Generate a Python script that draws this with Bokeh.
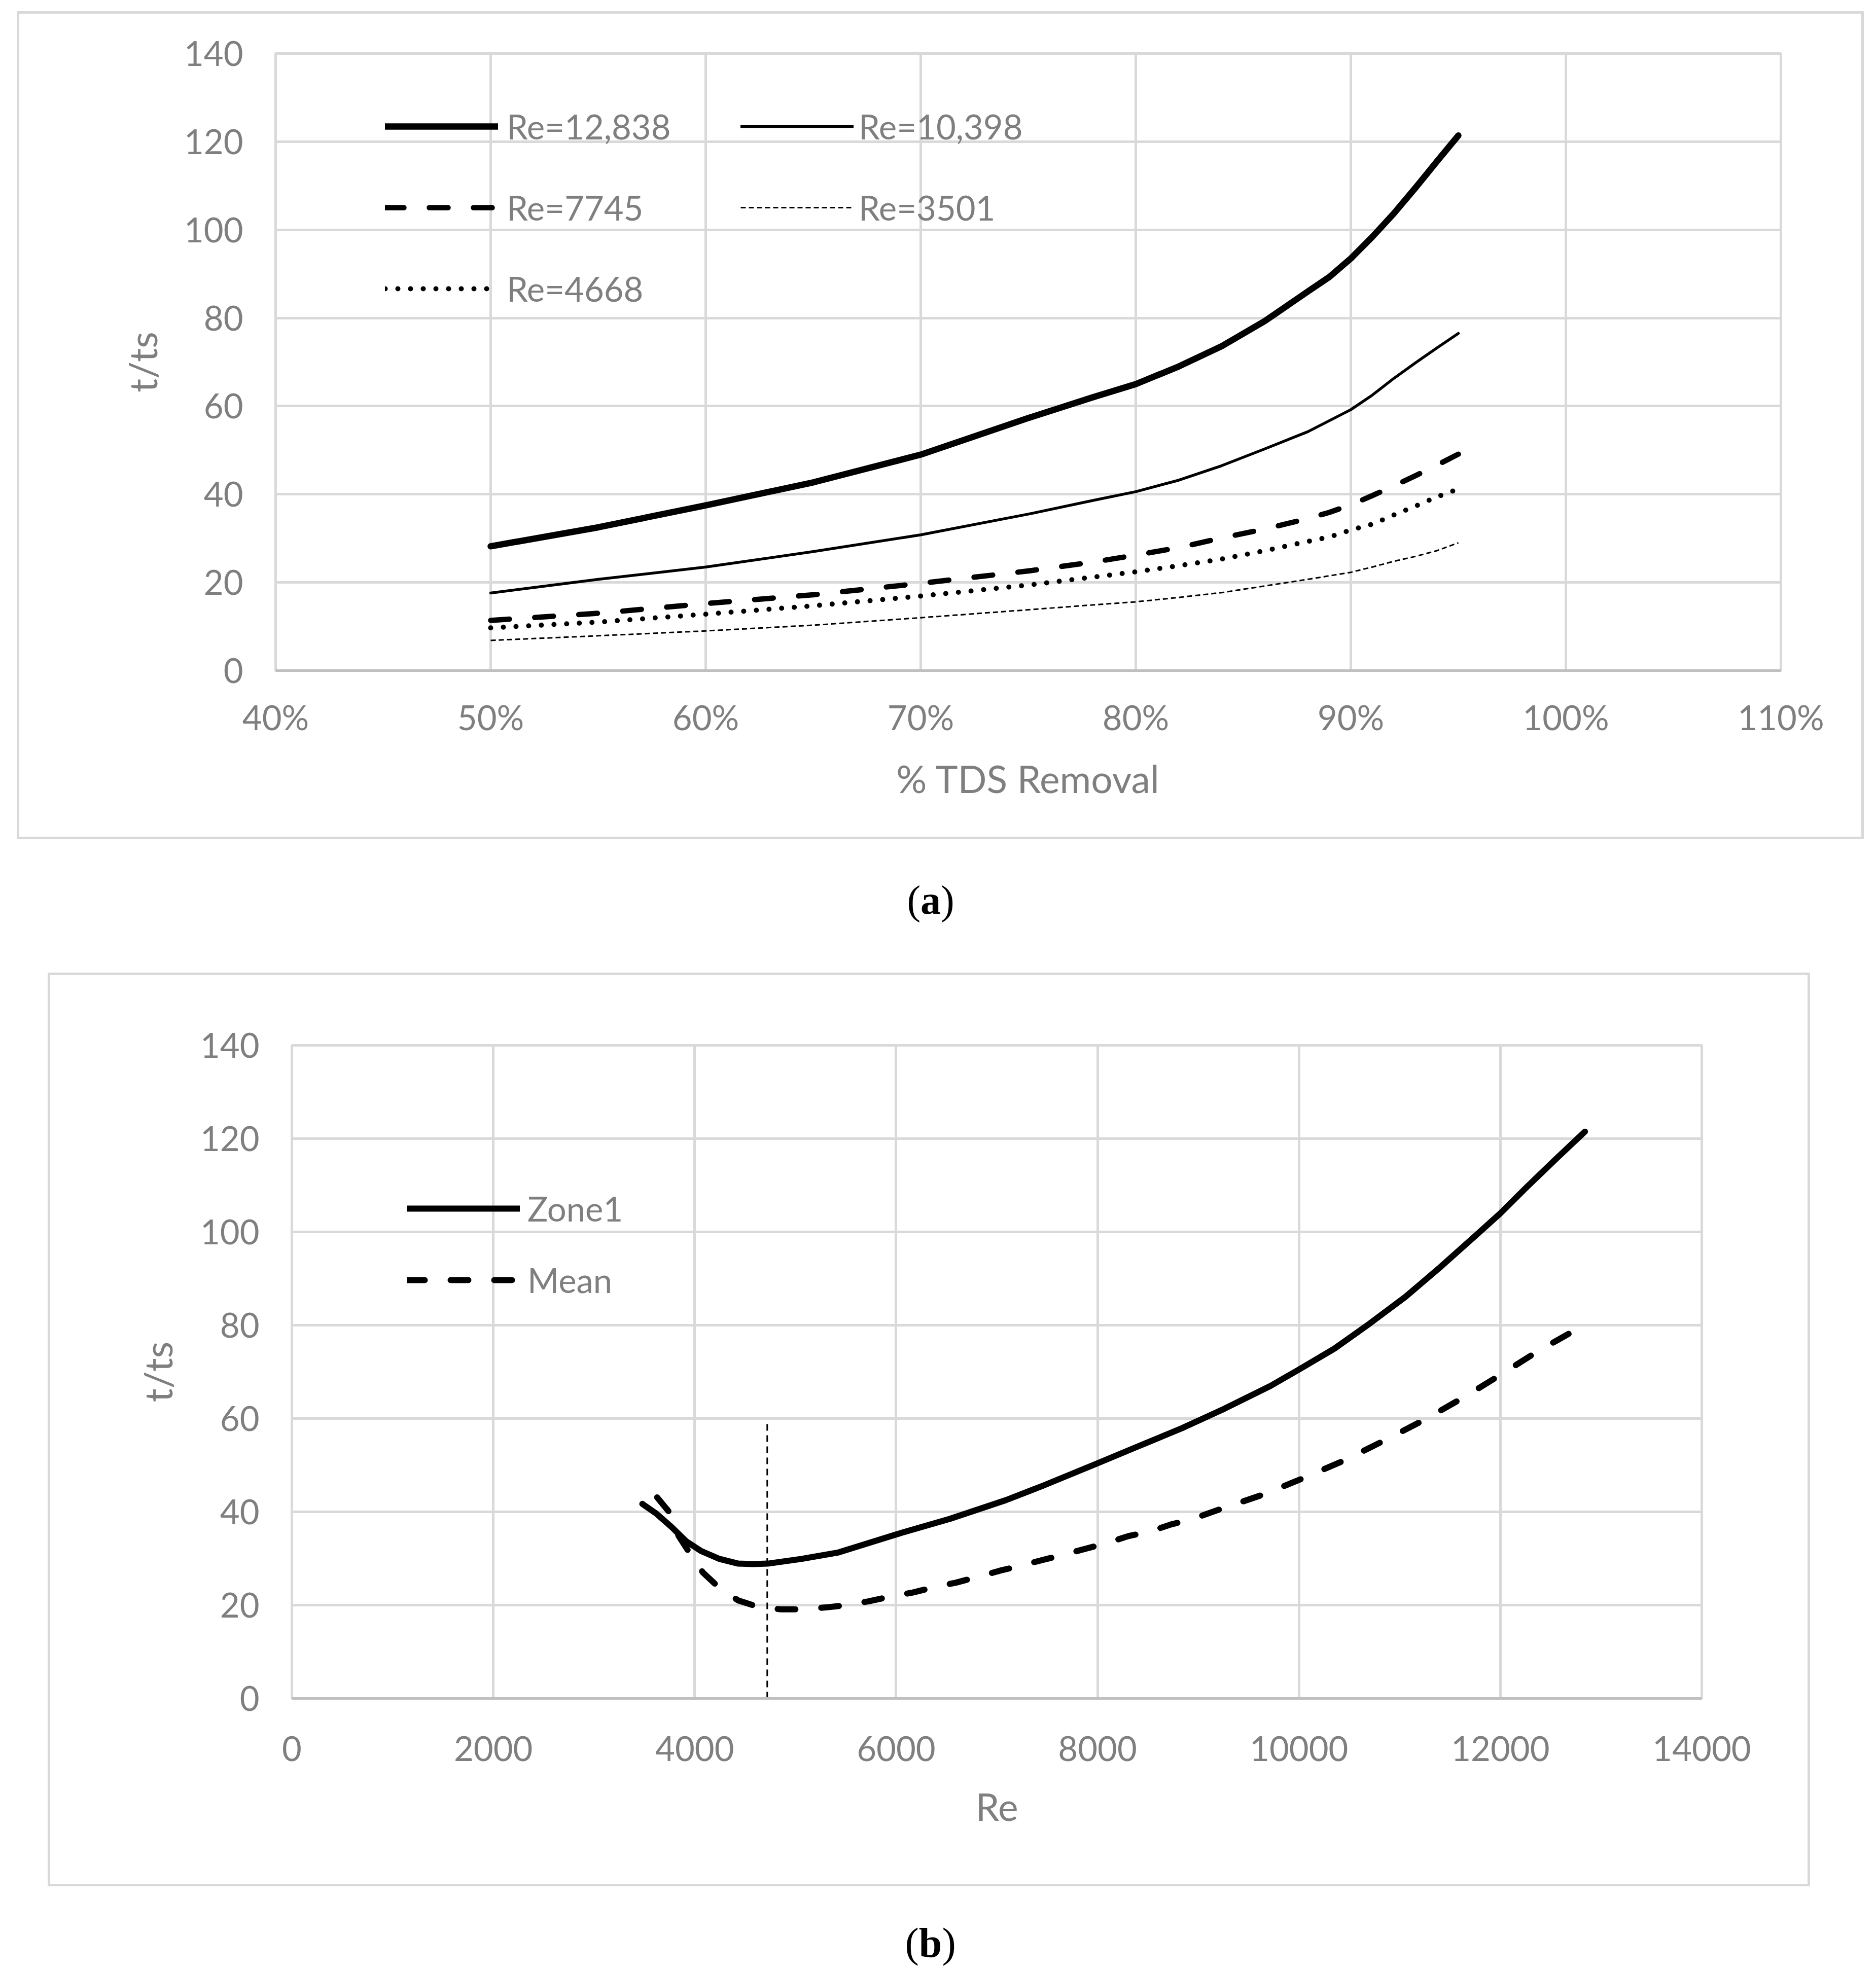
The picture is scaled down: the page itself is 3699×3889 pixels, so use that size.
from bokeh.plotting import figure
from bokeh.models import FixedTicker, Legend, LegendItem, Label, Range1d
from bokeh.embed import file_html
from bokeh.resources import INLINE

# ---------------- data: panel (a) ----------------
removal_pct = [50, 55, 60, 65, 70, 75, 78, 80, 82, 84, 86, 88, 89, 90, 91, 92, 93, 94, 95]
re_12838 = [28.2, 32.5, 37.5, 42.7, 49.0, 57.3, 62.0, 65.0, 69.0, 73.6, 79.3, 86.0, 89.3,
            93.5, 98.4, 103.7, 109.5, 115.5, 121.4]
re_10398 = [17.6, 20.7, 23.5, 27.0, 30.8, 35.5, 38.6, 40.6, 43.2, 46.5, 50.3, 54.2, 56.7,
            59.2, 62.5, 66.3, 69.8, 73.2, 76.5]
re_7745 = [11.4, 13.0, 15.2, 17.2, 19.8, 22.6, 24.6, 26.2, 27.9, 30.1, 32.1, 34.5, 35.9,
           37.6, 39.7, 41.9, 44.2, 46.6, 49.1]
re_3501 = [6.85, 7.9, 9.0, 10.3, 12.0, 13.8, 14.9, 15.6, 16.6, 17.7, 19.2, 20.7, 21.5,
           22.3, 23.5, 24.8, 25.9, 27.2, 29.0]
re_4668 = [9.7, 11.0, 12.8, 14.7, 16.9, 19.4, 21.2, 22.4, 23.8, 25.3, 27.2, 29.3, 30.3,
           31.9, 33.2, 35.3, 37.3, 39.4, 41.2]

x_ticks_a = [40, 50, 60, 70, 80, 90, 100, 110]
x_tick_labels_a = ["40%", "50%", "60%", "70%", "80%", "90%", "100%", "110%"]
y_ticks = [0, 20, 40, 60, 80, 100, 120, 140]

# ---------------- data: panel (b) ----------------
zone1_re = [3480, 3620, 3768, 3915, 4063, 4247, 4432, 4579, 4727, 5059, 5428, 6007, 6535,
            7089, 7458, 8000, 8377, 8836, 9259, 9718, 10000, 10353, 10705, 11058, 11411,
            11764, 12000, 12257, 12540, 12840]
zone1_t = [41.7, 39.6, 36.8, 33.7, 31.6, 29.9, 28.9, 28.8, 28.9, 29.9, 31.3, 35.2, 38.5,
           42.5, 45.6, 50.4, 53.8, 57.9, 62.1, 67.0, 70.5, 75.0, 80.4, 86.1, 92.6,
           99.4, 104.0, 109.5, 115.4, 121.5]
mean_re = [3627, 3760, 3841, 3952, 4081, 4240, 4432, 4635, 4856, 5066, 5299, 5509, 5723,
           5937, 6166, 6369, 6590, 6801, 7033, 7229, 7458, 7660, 7882, 8077, 8306, 8509,
           8730, 8934, 9235, 9658, 10063, 10469, 10857, 11252, 11640, 12011, 12384,
           12765, 12850]
mean_t = [43.1, 39.6, 34.8, 31.1, 27.0, 23.8, 21.0, 19.6, 19.1, 19.1, 19.5, 20.0, 20.8,
          21.8, 22.7, 23.8, 24.8, 26.0, 27.4, 28.4, 29.7, 30.8, 32.1, 33.2, 34.8, 35.7,
          37.3, 38.4, 40.7, 43.8, 47.4, 51.2, 55.4, 59.8, 64.6, 69.5, 74.6,
          79.2, 80.2]
divider_re = [4720, 4720]
divider_t = [0, 59.3]

x_ticks_b = [0, 2000, 4000, 6000, 8000, 10000, 12000, 14000]
x_tick_labels_b = ["0", "2000", "4000", "6000", "8000", "10000", "12000", "14000"]

FONT = "Lato"
GRAY = "#7f7f7f"
GRID = "#d9d9d9"
AXIS = "#bfbfbf"


def place(left, top, frame=False):
    st = {"position": "absolute", "left": f"{left}px", "top": f"{top}px"}
    if frame:
        st.update({"outline": "5px solid #d9d9d9", "outline-offset": "-5px"})
    return st


def style_axes(p, x_ticks, x_labels, x_title, xstand, ystand):
    p.xaxis.ticker = FixedTicker(ticks=x_ticks)
    p.xaxis.major_label_overrides = dict(zip(x_ticks, x_labels))
    p.yaxis.ticker = FixedTicker(ticks=y_ticks)
    p.xaxis.axis_label = x_title
    p.yaxis.axis_label = "t/ts"
    for ax in (p.xaxis[0], p.yaxis[0]):
        ax.major_tick_line_color = None
        ax.minor_tick_line_color = None
        ax.major_tick_out = 0
        ax.major_tick_in = 0
        ax.minor_tick_out = 0
        ax.minor_tick_in = 0
        ax.major_label_text_font = FONT
        ax.major_label_text_font_size = "67px"
        ax.major_label_text_color = GRAY
        ax.axis_label_text_font = FONT
        ax.axis_label_text_font_size = "75px"
        ax.axis_label_text_color = GRAY
        ax.axis_label_text_font_style = "normal"
    p.xaxis.major_label_standoff = xstand[0]
    p.xaxis.axis_label_standoff = xstand[1]
    p.yaxis.major_label_standoff = ystand[0]
    p.yaxis.axis_label_standoff = ystand[1]
    p.xaxis.axis_line_color = AXIS
    p.xaxis.axis_line_width = 5
    p.yaxis.axis_line_color = None
    p.xgrid.grid_line_color = GRID
    p.xgrid.grid_line_width = 5
    p.ygrid.grid_line_color = GRID
    p.ygrid.grid_line_width = 5
    p.outline_line_color = GRID
    p.outline_line_width = 5
    p.border_fill_alpha = 0


def make_legend(items, loc, height, spacing, standoff):
    return Legend(items=items, location=loc, orientation="vertical",
                  glyph_width=223, glyph_height=height, label_height=height,
                  spacing=spacing, padding=0, margin=0, label_standoff=standoff,
                  background_fill_alpha=0, border_line_color=None,
                  label_text_font=FONT, label_text_font_size="67px",
                  label_text_color=GRAY)


# ---------------- panel (a) ----------------
pa = figure(frame_width=2968, frame_height=1217,
            min_border_left=510, min_border_right=164,
            min_border_top=83, min_border_bottom=333,
            x_range=Range1d(40, 110), y_range=Range1d(0, 140),
            output_backend="svg", toolbar_location=None)
style_axes(pa, x_ticks_a, x_tick_labels_a, "% TDS Removal", (51, 33), (64, 34))
pa.styles = place(33, 22, frame=True)

r1 = pa.line(removal_pct, re_12838, line_color="black", line_width=12.5,
             line_cap="round", line_join="round")
r2 = pa.line(removal_pct, re_10398, line_color="black", line_width=5.5,
             line_cap="round", line_join="round")
r3 = pa.line(removal_pct, re_7745, line_color="black", line_width=10.5,
             line_dash="37 50", line_cap="round", line_join="round")
r4 = pa.line(removal_pct, re_3501, line_color="black", line_width=3,
             line_dash="10 6", line_join="round")
r5 = pa.line(removal_pct, re_4668, line_color="black", line_width=10,
             line_dash="0 25", line_cap="round", line_join="round")

leg_a1 = make_legend([LegendItem(label="Re=12,838", renderers=[r1]),
                      LegendItem(label="Re=7745", renderers=[r3]),
                      LegendItem(label="Re=4668", renderers=[r5])],
                     (216, 703), 100, 60, 17)
leg_a2 = make_legend([LegendItem(label="Re=10,398", renderers=[r2]),
                      LegendItem(label="Re=3501", renderers=[r4])],
                     (917, 863), 100, 60, 10)
pa.add_layout(leg_a1)
pa.add_layout(leg_a2)


# ---------------- caption figures ----------------
def caption(left, top, height, letter, base, size, x0_page, wp, wl):
    c = figure(width=250, height=height, x_axis_type=None, y_axis_type=None,
               x_range=Range1d(0, 1), y_range=Range1d(0, 1),
               output_backend="svg", toolbar_location=None, min_border=0)
    c.outline_line_color = None
    c.border_fill_alpha = 0
    c.background_fill_alpha = 0
    c.styles = place(left, top)
    x0 = x0_page - left
    parts = [("(", "normal", x0), (letter, "bold", x0 + wp), (")", "normal", x0 + wp + wl)]
    for txt, style, x in parts:
        c.add_layout(Label(x=x, y=base, x_units="screen", y_units="screen", text=txt,
                           text_font="Liberation Serif", text_font_size=f"{size}px",
                           text_font_style=style, text_color="black",
                           text_baseline="alphabetic", text_align="left"))
    return c


cap_a = caption(1700, 1680, 200, "a", 106, 80, 1788, 26.6, 40.0)

# ---------------- panel (b) ----------------
pb = figure(frame_width=2780, frame_height=1288,
            min_border_left=481, min_border_right=214,
            min_border_top=143, min_border_bottom=371,
            x_range=Range1d(0, 14000), y_range=Range1d(0, 140),
            output_backend="svg", toolbar_location=None)
style_axes(pb, x_ticks_b, x_tick_labels_b, "Re", (74, 41), (64, 36))
pb.styles = place(94, 1918, frame=True)

z1 = pb.line(zone1_re, zone1_t, line_color="black", line_width=12,
             line_cap="round", line_join="round")
mn = pb.line(mean_re, mean_t, line_color="black", line_width=12,
             line_dash="35 51", line_cap="round", line_join="round")
pb.line(divider_re, divider_t, line_color="black", line_width=3, line_dash="13 9")

leg_b = make_legend([LegendItem(label="Zone1", renderers=[z1]),
                     LegendItem(label="Mean", renderers=[mn])],
                    (227, 775), 100, 41, 15)
pb.add_layout(leg_b)

cap_b = caption(1700, 3740, 145, "b", 54, 82, 1784, 27.3, 45.6)

open("out.html", "w").write(file_html([pa, cap_a, pb, cap_b], INLINE))
